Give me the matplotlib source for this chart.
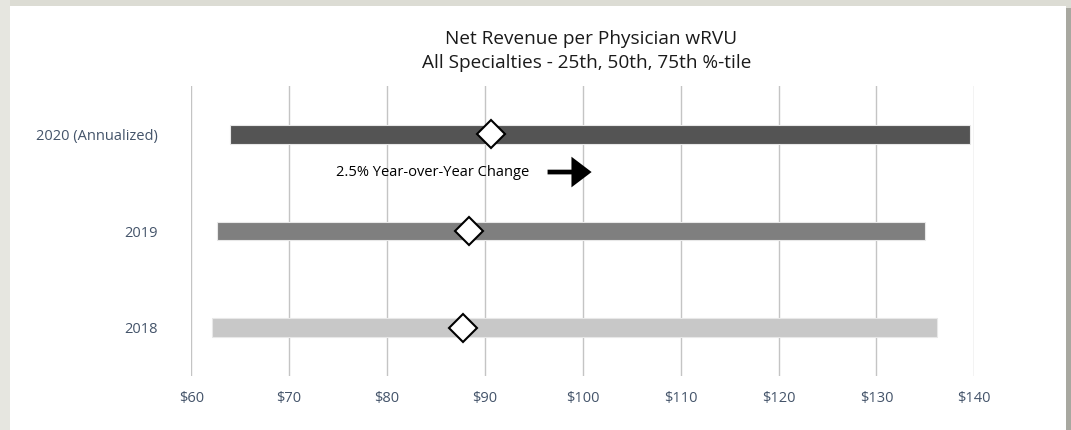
import matplotlib.pyplot as plt
from matplotlib.patches import Rectangle

plt.rcParams['font.family'] = ['Open Sans', 'DejaVu Sans']

# данные: 25-й, 50-й, 75-й перцентиль
years = ['2018', '2019', '2020 (Annualized)']
p25 = [62.1, 62.6, 64.0]
p50 = [87.8, 88.4, 90.6]
p75 = [136.2, 135.0, 139.6]
colors = ['#c8c8c8', '#7f7f7f', '#545454']
xticks = [60, 70, 80, 90, 100, 110, 120, 130, 140]
note = '2.5% Year-over-Year Change'

W, H = 1071, 430
fig = plt.figure(figsize=(W / 100, H / 100), dpi=100)
fig.patch.set_facecolor('#dcdcd4')

# белая панель и тень справа (под осями)
fig.patches.append(Rectangle((0, 0), 10 / W, 1, transform=fig.transFigure,
                             facecolor='#e6e6e0', edgecolor='none', zorder=-3))
fig.patches.append(Rectangle((1066 / W, 0), 5 / W, 1 - 8 / H, transform=fig.transFigure,
                             facecolor='#a8a8a0', edgecolor='none', zorder=-3))
fig.patches.append(Rectangle((10 / W, 0), 1056 / W, 1 - 6 / H, transform=fig.transFigure,
                             facecolor='white', edgecolor='none', zorder=-2))

ax = fig.add_axes([191.3 / W, 1 - 376 / H, (974.3 - 191.3) / W, (376 - 86) / H])
ax.set_facecolor('none')
ax.set_zorder(1)

y = list(range(len(years)))
widths = [b - a for a, b in zip(p25, p75)]
ax.barh(y, widths, left=p25, height=0.19, color=colors,
        edgecolor='#e8e8e8', linewidth=0.8, zorder=3)
ax.plot(p50, y, linestyle='none', marker='D', markersize=14.3,
        markerfacecolor='white', markeredgecolor='black', markeredgewidth=1.5, zorder=4)

ax.set_xlim(60, 140)
ax.set_ylim(-0.5, 2.5)
ax.set_xticks(xticks)
ax.set_xticklabels([f'${v}' for v in xticks])
ax.set_yticks(y)
ax.set_yticklabels(years)
ax.tick_params(axis='both', length=0, labelsize=10.5, labelcolor='#44546a')
ax.tick_params(axis='x', pad=11)
ax.tick_params(axis='y', pad=24)
ax.grid(axis='x', color='#c4c4c4', linewidth=1, zorder=0)
ax.set_axisbelow(True)
for s in ax.spines.values():
    s.set_visible(False)

# подпись и стрелка
ax.text(94.5, 1.61, note, ha='right', va='center', fontsize=10.5, color='black')
ax.annotate('', xy=(100.9, 1.61), xytext=(96.4, 1.61),
            arrowprops=dict(arrowstyle='-|>,head_length=0.5,head_width=0.38',
                            mutation_scale=20, lw=3.4, color='black',
                            capstyle='butt', joinstyle='miter',
                            shrinkA=0, shrinkB=0))

fig.text(591 / W, 1 - 39 / H, 'Net Revenue per Physician wRVU',
         ha='center', va='center', fontsize=13.7, color='#1a1a1a')
fig.text(587 / W, 1 - 63 / H, 'All Specialties - 25th, 50th, 75th %-tile',
         ha='center', va='center', fontsize=13.7, color='#1a1a1a')

fig.savefig('out.png', dpi=100, facecolor=fig.get_facecolor())
